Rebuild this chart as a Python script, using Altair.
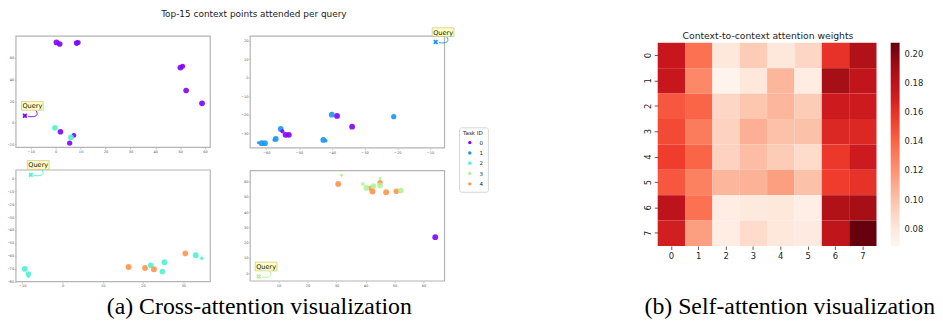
import altair as alt
import pandas as pd

# ---------------- data ----------------
TASK_IDS = [0, 1, 2, 3, 4]
TASK_COLORS = ["#8000ff", "#1996f3", "#4df3ce", "#b2f396", "#ff964f"]

# top-left panel
tl_x = [0.3, 1.6, 8.4, 9.0, 50.1, 51.0, 52.4, 58.8, 1.9, 7.3, 5.6, -0.3, 6.1]
tl_y = [74.0, 72.5, 73.4, 74.0, 50.9, 52.1, 29.8, 17.9, -8.2, -11.6, -18.6, -4.6, -13.4]
tl_task = [0, 0, 0, 0, 0, 0, 0, 0, 0, 0, 0, 2, 2]
tl_size = [34, 32, 32, 26, 34, 26, 32, 34, 32, 24, 28, 34, 34]
tl_query = [-12.4, 6.4, 0]
tl_xlim = [-16.0, 62.1]
tl_ylim = [-22.7, 79.8]
tl_xticks = [-10, 0, 10, 20, 30, 40, 50, 60]
tl_yticks = [-20, 0, 20, 40, 60]

# top-right panel
tr_x = [-40.0, -21.1, -55.6, -57.1, -57.6, -61.4, -60.4, -62.4, -42.6, -41.8,
        -38.4, -33.8, -55.1, -54.1, -53.1]
tr_y = [-19.8, -20.9, -27.5, -32.9, -33.4, -35.2, -35.2, -35.0, -33.4, -33.9,
        -20.5, -26.3, -28.8, -30.7, -30.7]
tr_task = [1, 1, 1, 1, 1, 1, 1, 1, 1, 1, 0, 0, 0, 0, 0]
tr_size = [34, 28, 34, 34, 12, 34, 34, 9, 34, 12, 34, 34, 18, 34, 34]
tr_query = [-8.3, 19.3, 1]
tr_xlim = [-64.9, -5.6]
tr_ylim = [-37.7, 22.5]
tr_xticks = [-60, -50, -40, -30, -20, -10]
tr_yticks = [-30, -20, -10, 0, 10, 20]

# bottom-left panel
bl_x = [-9.4, -8.5, -8.5, 21.9, 25.3, 24.8, 33.1, 34.6, 16.4, 20.5, 22.7, 30.5]
bl_y = [-70.0, -74.1, -76.0, -67.3, -64.9, -72.1, -59.5, -61.8, -68.6, -69.4, -70.4, -58.2]
bl_task = [2, 2, 2, 2, 2, 2, 2, 2, 4, 4, 4, 4]
bl_size = [34, 30, 9, 32, 34, 32, 34, 12, 36, 34, 36, 34]
bl_query = [-7.9, 2.6, 2]
bl_xlim = [-11.6, 36.7]
bl_ylim = [-80.0, 6.4]
bl_xticks = [-10, 0, 10, 20, 30]
bl_yticks = [-80, -70, -60, -50, -40, -30, -20, -10, 0]

# bottom-right panel
br_x = [30.6, 41.9, 42.4, 45.0, 47.1, 50.6, 31.7, 39.1, 40.3, 42.7, 45.0, 45.0, 52.2, 64.0]
br_y = [58.3, 55.5, 53.4, 59.2, 52.9, 53.6, 64.1, 58.4, 55.8, 57.0, 62.0, 57.4, 54.1, 23.5]
br_task = [4, 4, 4, 4, 4, 4, 3, 3, 3, 3, 3, 3, 3, 0]
br_size = [36, 34, 36, 28, 36, 32, 9, 14, 32, 34, 9, 32, 32, 34]
br_query = [3.2, -2.2, 3]
br_xlim = [0.3, 67.2]
br_ylim = [-5.2, 67.1]
br_xticks = [10, 20, 30, 40, 50, 60]
br_yticks = [0, 10, 20, 30, 40, 50, 60]

# self-attention heatmap (rows = query context, cols = key context)
HEAT_IDS = [0, 1, 2, 3, 4, 5, 6, 7]
heat_rows = [
    [0.175, 0.135, 0.080, 0.095, 0.080, 0.090, 0.160, 0.185],
    [0.175, 0.125, 0.070, 0.080, 0.105, 0.075, 0.190, 0.178],
    [0.145, 0.140, 0.090, 0.098, 0.105, 0.095, 0.172, 0.172],
    [0.150, 0.130, 0.092, 0.108, 0.100, 0.100, 0.165, 0.165],
    [0.155, 0.140, 0.092, 0.102, 0.095, 0.088, 0.157, 0.172],
    [0.145, 0.128, 0.105, 0.107, 0.115, 0.100, 0.155, 0.160],
    [0.180, 0.135, 0.075, 0.078, 0.080, 0.074, 0.185, 0.190],
    [0.170, 0.115, 0.075, 0.088, 0.080, 0.077, 0.178, 0.208],
]
# colour-bar stops (matplotlib "Reds", 9 anchors spread over the colour-bar range)
HEAT_STOPS = [0.068, 0.0855, 0.103, 0.1205, 0.138, 0.1555, 0.173, 0.1905, 0.208]
REDS = ["#fff5f0", "#fee0d2", "#fcbba1", "#fc9272", "#fb6a4a",
        "#ef3b2c", "#cb181d", "#a50f15", "#67000d"]
CBAR_TICKS = [0.08, 0.10, 0.12, 0.14, 0.16, 0.18, 0.20]

TITLE_A = "Top-15 context points attended per query"
TITLE_B = "Context-to-context attention weights"
CAPTION_A = "(a) Cross-attention visualization"
CAPTION_B = "(b) Self-attention visualization"

# ---------------- styling ----------------
SANS = "DejaVu Sans"
SERIF = "Liberation Serif"
XPATH = "M-1,-1L1,1M-1,1L1,-1"
BOXPATH = "M-1,-0.4H1V0.4H-1Z"
ARROWPATH = "M1,-0.5C1.3,-0.1 1.05,0.18 0.3,0.05"
H = 317  # whole drawing height

SCATTER_AXIS = dict(grid=False, domain=False, labelFontSize=3.6, labelColor="#555",
                    labelFont=SANS, tickSize=1.5, tickColor="#888", tickWidth=0.5,
                    labelPadding=0.8, labelOverlap=False)


def panel(px, py, ptask, psize, q, xlim, ylim, xr, yr, xticks, yticks,
          xoff, yoff, legend=None, xtitle=None, ytitle=None):
    pts = pd.DataFrame({"x": px, "y": py, "task": ptask, "s": psize})
    qdf = pd.DataFrame({"x": [q[0]], "y": [q[1]], "task": [q[2]]})
    fdf = pd.DataFrame({"x": [xlim[0]], "x2": [xlim[1]], "y": [ylim[0]], "y2": [ylim[1]]})
    xs = alt.Scale(domain=xlim, range=xr, nice=False, zero=False)
    ys = alt.Scale(domain=ylim, range=yr, nice=False, zero=False)
    cs = alt.Scale(domain=TASK_IDS, range=TASK_COLORS)

    xkw = dict(SCATTER_AXIS, orient="bottom", offset=xoff, values=xticks, title=None)
    if xtitle:
        xkw.update(title=xtitle["text"], titleX=xtitle["x"], titleY=xtitle["y"],
                   titleAlign="center", titleBaseline="alphabetic", titleAngle=0,
                   titleFont=xtitle["font"], titleFontSize=xtitle["size"],
                   titleFontWeight="normal", titleColor="#000")
    ykw = dict(SCATTER_AXIS, orient="left", offset=yoff, values=yticks, title=None)
    if ytitle:
        ykw.update(title=ytitle["text"], titleX=ytitle["x"], titleY=ytitle["y"],
                   titleAlign="center", titleBaseline="middle", titleAngle=0,
                   titleFont=ytitle["font"], titleFontSize=ytitle["size"],
                   titleFontWeight="normal", titleColor="#222")
    xax = alt.Axis(**xkw)
    yax = alt.Axis(**ykw)

    def X(f):
        return alt.X(f, type="quantitative", scale=xs, axis=xax)

    def Y(f):
        return alt.Y(f, type="quantitative", scale=ys, axis=yax)

    frame = alt.Chart(fdf).mark_rect(fillOpacity=0, stroke="#b4b4b4", strokeWidth=1.2).encode(
        x=X("x"), x2="x2", y=Y("y"), y2="y2")

    if legend is not None:
        col = alt.Color("task:N", scale=cs, legend=legend)
    else:
        col = alt.Color("task:N", scale=cs, legend=None)
    dots = alt.Chart(pts).mark_circle(opacity=0.9).encode(
        x=X("x"), y=Y("y"), color=col, size=alt.Size("s:Q", scale=None, legend=None))

    qcol = alt.Color("task:N", scale=cs, legend=None)
    arrow = alt.Chart(qdf).mark_point(shape=ARROWPATH, size=484, filled=False,
                                      strokeWidth=0.9, opacity=1).encode(
        x=X("x"), y=Y("y"), color=qcol)
    qmark = alt.Chart(qdf).mark_point(shape=XPATH, size=14, filled=False,
                                      strokeWidth=1.8, opacity=1).encode(
        x=X("x"), y=Y("y"), color=qcol)
    box = alt.Chart(qdf).mark_point(shape=BOXPATH, size=484, filled=True, fill="#ffffc2",
                                    stroke="#bdbd70", strokeWidth=0.6, opacity=1,
                                    xOffset=7.5, yOffset=-10).encode(x=X("x"), y=Y("y"))
    label = alt.Chart(qdf).mark_text(text="Query", dx=7.5, dy=-9.6, fontSize=6.6, font=SANS,
                                     color="#111", align="center", baseline="middle").encode(
        x=X("x"), y=Y("y"))
    return alt.layer(frame, dots, arrow, qmark, box, label)


task_legend = alt.Legend(orient="none", legendX=455, legendY=119, title="Task ID",
                         titleFont=SANS, titleFontSize=5.6, titleFontWeight="normal",
                         titleColor="#222", titlePadding=3, labelFont=SANS,
                         labelFontSize=5.6, labelColor="#222", symbolType="circle",
                         symbolSize=12, symbolOpacity=1, symbolStrokeWidth=0,
                         rowPadding=3.4, symbolOffset=4, labelOffset=7,
                         fillColor="white", strokeColor="#d4d4d4", padding=4,
                         cornerRadius=2)

TL = panel(tl_x, tl_y, tl_task, tl_size, tl_query, tl_xlim, tl_ylim,
           [8, 204], [139.3, 27], tl_xticks, tl_yticks, 139.3 - H, -8, legend=task_legend,
           ytitle=dict(text=TITLE_A, x=239.5, y=4, font=SANS, size=9))
TR = panel(tr_x, tr_y, tr_task, tr_size, tr_query, tr_xlim, tr_ylim,
           [244.3, 440.3], [139.7, 27], tr_xticks, tr_yticks, 139.7 - H, -244.3)
BL = panel(bl_x, bl_y, bl_task, bl_size, bl_query, bl_xlim, bl_ylim,
           [8, 204], [274.7, 162], bl_xticks, bl_yticks, 274.7 - H, -8,
           xtitle=dict(text=CAPTION_A, x=253, y=32.3, font=SERIF, size=24))
BR = panel(br_x, br_y, br_task, br_size, br_query, br_xlim, br_ylim,
           [244.3, 440.3], [274, 162.7], br_xticks, br_yticks, 274 - H, -244.3)

# heatmap
hrec = []
for r, row in zip(HEAT_IDS, heat_rows):
    for c, v in zip(HEAT_IDS, row):
        hrec.append({"row": r, "col": c, "value": v})
hdf = pd.DataFrame(hrec)

HM_AXIS = dict(grid=False, domain=False, labelFont=SANS, labelFontSize=8.5, labelColor="#262626",
               tickSize=3.5, tickColor="#333", tickWidth=0.8, labelPadding=2)

heat = alt.Chart(hdf).mark_rect().encode(
    x=alt.X("col:O", scale=alt.Scale(domain=HEAT_IDS, range=[655.3, 876], paddingInner=0, paddingOuter=0),
            axis=alt.Axis(**HM_AXIS, orient="bottom", offset=238.7 - H, labelAngle=0,
                          title=CAPTION_B, titleX=788, titleY=68, titleAlign="center",
                          titleBaseline="alphabetic", titleAngle=0, titleFont=SERIF,
                          titleFontSize=24, titleFontWeight="normal", titleColor="#000")),
    y=alt.Y("row:O", scale=alt.Scale(domain=HEAT_IDS, range=[33.7, 238.7], paddingInner=0, paddingOuter=0),
            axis=alt.Axis(**HM_AXIS, orient="left", offset=-655.3, labelAngle=270,
                          labelAlign="center", labelBaseline="bottom",
                          title=TITLE_B, titleX=110.7, titleY=26, titleAlign="center",
                          titleBaseline="middle", titleAngle=0, titleFont=SANS,
                          titleFontSize=9.3, titleFontWeight="normal", titleColor="#222")),
    color=alt.Color("value:Q", scale=alt.Scale(type="linear", domain=HEAT_STOPS, range=REDS,
                                               interpolate="rgb"),
                    legend=alt.Legend(orient="none", legendX=890.3, legendY=33.7,
                                      direction="vertical", gradientLength=205,
                                      gradientThickness=9, gradientStrokeWidth=0,
                                      values=CBAR_TICKS, format=".2f", title=None,
                                      labelFont=SANS, labelFontSize=8.5, labelColor="#262626",
                                      labelOffset=5, labelOverlap=False)),
)

chart = alt.layer(TL, TR, BL, BR, heat).resolve_scale(
    x="independent", y="independent", color="independent", size="independent"
).resolve_axis(x="independent", y="independent").resolve_legend(
    color="independent", size="independent"
).properties(
    width=935, height=H, autosize=alt.AutoSizeParams(type="none"), padding=0
).configure_view(stroke=None)

chart.save("out.html", embed_options={"renderer": "svg", "actions": False})
